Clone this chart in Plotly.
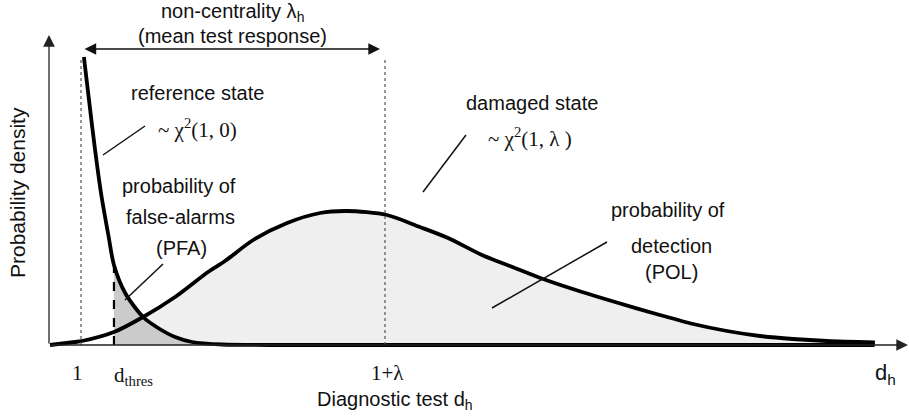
import plotly.graph_objects as go

# ---- data (x in units of d_h, y = probability density) ----
ref_x = [1.09, 1.25, 1.44, 1.64, 1.86, 2.03, 2.38, 2.94, 3.41, 3.94, 4.47, 5.41, 7.84, 25.8]
ref_y = [0.288, 0.245, 0.195, 0.149, 0.109, 0.080, 0.052, 0.028, 0.017, 0.008, 0.003, 0.0005, 0.0, 0.0]

dmg_x = [0.03, 0.81, 1.03, 2.03, 2.94, 3.94, 4.97, 5.5, 6.38, 7.44, 8.47, 9.31, 10.56, 11.59,
         12.47, 13.53, 14.56, 15.44, 16.66, 17.69, 19.09, 20.13, 21.19, 22.22, 23.25, 24.31, 25.81]
dmg_y = [0.0, 0.003, 0.004, 0.013, 0.028, 0.048, 0.073, 0.084, 0.105, 0.122, 0.132, 0.134, 0.130, 0.118,
         0.107, 0.090, 0.077, 0.066, 0.053, 0.043, 0.030, 0.021, 0.014, 0.009, 0.006, 0.004, 0.0025]

one = 1.0
lam = 9.5
d_thres = 2.03
tick_labels = ["1", "d<sub>thres</sub>", "1+λ"]

# ---- helpers to place layout items (pixel -> data) ----
W, H = 909, 419
def X(px):
    return (px - 49) / 32.0
def Y(py):
    return (345 - py) / 1000.0

SANS = "Liberation Sans, Arial, sans-serif"
SERIF = "Liberation Serif, Times New Roman, serif"
FS = 20

fig = go.Figure()

# fills from the threshold onward
fx = [x for x in dmg_x if x >= d_thres]
fy = [y for x, y in zip(dmg_x, dmg_y) if x >= d_thres]
fig.add_trace(go.Scatter(x=fx, y=fy, mode="lines", line=dict(width=0, shape="spline", smoothing=0.8),
                         fill="tozeroy", fillcolor="#efefef", hoverinfo="skip", showlegend=False))
rx = [x for x in ref_x if x >= d_thres]
ry = [y for x, y in zip(ref_x, ref_y) if x >= d_thres]
fig.add_trace(go.Scatter(x=rx, y=ry, mode="lines", line=dict(width=0, shape="spline", smoothing=0.8),
                         fill="tozeroy", fillcolor="#cbcbcb", hoverinfo="skip", showlegend=False))

# dotted guide lines
for xv in (one, one + lam):
    fig.add_shape(type="line", x0=xv, x1=xv, y0=0, y1=Y(60), line=dict(color="#555", width=1.2, dash="dot"))

# axes lines (arrows)
fig.add_annotation(x=X(908), y=0, ax=0, ay=0, axref="x", ayref="y", xref="x", yref="y", text="",
                   showarrow=True, arrowhead=2, arrowsize=1.8, arrowwidth=1.3, arrowcolor="#222",
                   standoff=0, startstandoff=0)
fig.add_annotation(x=0, y=Y(35), ax=0, ay=0, axref="x", ayref="y", xref="x", yref="y", text="",
                   showarrow=True, arrowhead=2, arrowsize=1.8, arrowwidth=1.3, arrowcolor="#222",
                   standoff=0, startstandoff=0)

# threshold dashed line
fig.add_shape(type="line", x0=d_thres, x1=d_thres, y0=0, y1=ref_y[ref_x.index(d_thres)],
              line=dict(color="black", width=2.2, dash="dash"))

# curves
fig.add_trace(go.Scatter(x=dmg_x, y=dmg_y, mode="lines", line=dict(color="black", width=3.8, shape="spline", smoothing=0.8),
                         hoverinfo="skip", showlegend=False))
fig.add_trace(go.Scatter(x=ref_x, y=ref_y, mode="lines", line=dict(color="black", width=3.8, shape="spline", smoothing=0.8),
                         hoverinfo="skip", showlegend=False))

# double arrow (non-centrality)
fig.add_annotation(x=X(380), y=Y(49), ax=X(83), ay=Y(49), axref="x", ayref="y", xref="x", yref="y", text="",
                   showarrow=True, arrowhead=2, startarrowhead=2, arrowside="end+start", arrowsize=1.8,
                   startarrowsize=1.8, arrowwidth=1.3, arrowcolor="#111", standoff=0, startstandoff=0)

def txt(px, py, s, size=FS, font=SANS):
    fig.add_annotation(x=X(px), y=Y(py), xref="x", yref="y", text=s, showarrow=False,
                       font=dict(family=font, size=size, color="#111"), xanchor="center", yanchor="middle")

def pointer(x0, y0, x1, y1):
    fig.add_shape(type="line", x0=X(x0), y0=Y(y0), x1=X(x1), y1=Y(y1), line=dict(color="#111", width=1.5))

txt(232, 12, "non-centrality λ<sub>h</sub>")
txt(232, 36, "(mean test response)")
txt(197, 93, "reference state")
txt(197, 128, "~ χ<sup>2</sup>(1, 0)", size=21, font=SERIF)
pointer(103, 155, 145, 126)
txt(179, 186, "probability of")
txt(180, 217, "false-alarms")
txt(181, 248, "(PFA)")
pointer(125, 300, 163, 264)
txt(532, 103, "damaged state")
txt(530, 137, "~ χ<sup>2</sup>(1, λ )", size=21, font=SERIF)
pointer(423, 192, 466, 135)
txt(668, 210, "probability of")
txt(671, 246, "detection")
txt(671, 272, "(POL)")
pointer(492, 308, 607, 242)

# tick labels
fig.add_annotation(x=one, y=Y(373), xref="x", yref="y", text=tick_labels[0], showarrow=False,
                   font=dict(family=SERIF, size=21, color="#111"), xshift=-4)
fig.add_annotation(x=d_thres, y=Y(376), xref="x", yref="y", text=tick_labels[1], showarrow=False,
                   font=dict(family=SERIF, size=21, color="#111"), xanchor="left", xshift=-2)
fig.add_annotation(x=one + lam, y=Y(373), xref="x", yref="y", text=tick_labels[2], showarrow=False,
                   font=dict(family=SERIF, size=21, color="#111"), xshift=2)
txt(885, 374, "d<sub>h</sub>", size=22)
txt(395, 400, "Diagnostic test d<sub>h</sub>", size=FS)
fig.add_annotation(x=X(17), y=Y(193), xref="x", yref="y", text="Probability density", showarrow=False,
                   textangle=-90, font=dict(family=SANS, size=21, color="#111"))

fig.update_layout(
    width=W, height=H, margin=dict(l=0, r=0, t=0, b=0),
    paper_bgcolor="white", plot_bgcolor="white",
    xaxis=dict(range=[X(0), X(W)], visible=False, fixedrange=True),
    yaxis=dict(range=[Y(H), Y(0)], visible=False, fixedrange=True),
    showlegend=False,
)
fig.write_html("out.html", config={"displayModeBar": False},
               post_script="document.body.style.margin='0px';document.body.style.overflow='hidden';")
